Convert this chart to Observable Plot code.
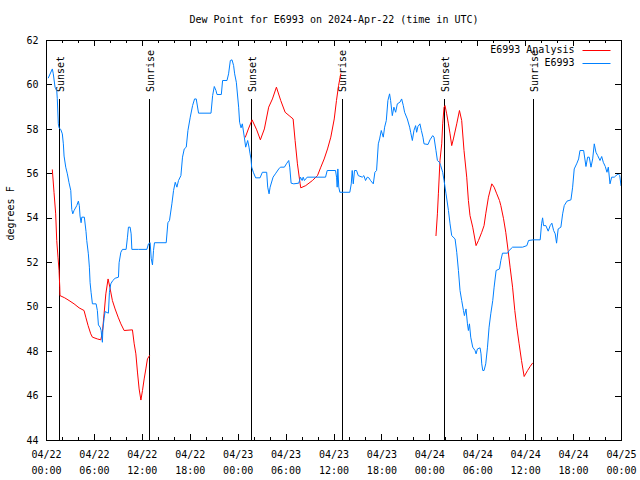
<!DOCTYPE html>
<html>
<head>
<meta charset="utf-8">
<script src="https://cdn.jsdelivr.net/npm/d3@7"></script>
<script src="https://cdn.jsdelivr.net/npm/@observablehq/plot@0.6"></script>
<style>
  html, body { margin: 0; padding: 0; background: #fff; }
  #chart svg { display: block; }
</style>
</head>
<body>
<div id="chart"></div>
<script>
// ---------- data ----------
const title = "Dew Point for E6993 on 2024-Apr-22 (time in UTC)";
const yLabel = "degrees F";
const startUTC = Date.UTC(2024, 3, 22, 0, 0);
const spanHours = 72;

const seriesNames = ["E6993 Analysis", "E6993"];
const seriesColors = ["#ff0000", "#0080ff"];

// E6993 observations: hours since 2024-04-22 00:00 UTC, dew point (°F)
const blueHours = [
  0.23,0.73,0.85,1.07,1.28,1.35,1.48,1.57,1.78,1.98,2.11,2.20,2.41,2.61,2.82,3.04,3.16,3.29,3.45,3.79,
  3.99,4.11,4.20,4.33,4.42,4.74,4.95,5.04,5.24,5.37,5.46,5.58,5.75,6.21,6.37,6.50,6.71,6.84,7.00,7.05,
  7.21,7.34,7.75,7.88,8.05,8.30,8.59,9.01,9.09,9.31,9.51,9.97,10.14,10.26,10.47,10.60,10.69,11.52,12.57,12.77,
  12.98,13.11,13.27,13.40,13.52,14.99,15.20,15.40,15.70,15.91,16.12,16.33,16.53,16.83,17.03,17.25,17.50,17.71,18.00,18.29,
  18.54,18.75,19.04,20.60,20.80,21.01,21.22,21.35,21.89,22.05,22.60,22.80,23.02,23.23,23.43,23.56,23.77,24.06,24.18,24.23,
  24.36,24.52,24.77,24.94,25.19,25.36,25.49,25.61,25.69,25.90,26.19,26.74,27.03,27.57,27.70,27.87,28.00,28.37,28.66,29.08,
  29.29,29.79,30.04,30.33,30.46,30.63,30.96,31.59,31.80,32.01,32.14,32.30,32.64,34.94,35.15,36.19,36.32,36.40,36.48,36.60,
  36.73,37.98,38.16,38.28,38.41,38.57,38.82,39.04,39.54,39.74,39.95,40.17,40.37,40.58,40.92,41.12,41.33,41.55,41.71,41.92,
  42.17,42.34,42.55,42.75,42.96,43.09,43.30,43.50,43.72,43.93,44.25,44.47,44.68,44.84,45.18,45.47,45.60,45.81,46.01,46.22,
  46.35,46.51,46.76,46.94,47.14,47.27,47.77,48.02,48.36,48.52,48.77,48.95,49.20,49.36,49.61,49.78,50.03,50.33,50.53,50.74,
  51.16,51.37,51.58,51.78,51.99,52.21,52.33,52.53,52.71,52.83,52.96,53.12,53.37,53.66,53.79,53.96,54.29,54.41,54.50,54.63,
  54.79,55.00,55.22,55.42,55.63,55.88,56.05,56.30,56.72,56.89,57.10,57.73,57.93,58.36,59.61,60.15,60.36,60.94,61.82,61.99,
  62.12,62.24,62.53,62.82,63.07,63.28,63.50,63.70,63.87,64.07,64.41,64.63,64.83,65.17,65.67,65.88,66.08,66.42,66.63,66.80,
  67.26,67.55,67.76,67.96,68.18,68.39,68.59,68.80,69.02,69.31,69.52,69.72,69.97,70.18,70.35,70.56,70.77,71.10,71.31,71.60,
  71.78,71.94
];
const blueValues = [
  60.32,60.72,60.5,59.9,59.75,59.4,58.25,58.07,58.0,57.8,57.35,56.8,56.3,56.0,55.6,55.25,54.4,54.2,54.35,54.57,
  54.77,54.57,54.1,53.8,54.05,54.05,53.4,53.0,52.4,51.8,51.1,50.67,50.15,50.15,49.85,49.2,49.1,48.95,48.42,48.95,
  49.5,49.8,49.73,50.67,51.05,51.2,51.3,51.35,52.0,52.47,52.6,52.6,53.15,53.6,53.6,53.3,52.6,52.6,52.6,52.85,
  52.9,52.2,51.9,52.55,52.9,52.9,53.8,53.9,54.65,55.25,55.62,55.4,55.7,55.92,56.75,57.12,57.2,57.95,58.55,59.07,
  59.37,59.37,58.73,58.73,59.52,59.93,59.75,59.57,59.57,60.2,60.2,60.5,61.1,61.13,60.87,60.5,60.12,59.0,58.32,58.25,
  58.07,58.25,57.65,57.2,57.5,57.2,56.9,56.67,56.3,56.07,55.82,55.82,56.07,56.07,55.4,55.1,55.4,55.85,56.0,56.22,
  56.3,56.3,56.45,56.6,56.3,55.58,55.55,55.58,55.85,55.7,55.85,55.7,55.85,55.85,56.15,56.15,55.85,55.4,56.22,55.4,
  55.17,55.17,55.55,56.15,55.55,56.15,56.15,55.92,55.85,55.92,55.7,55.85,55.82,55.7,55.55,56.07,56.15,57.35,57.57,57.95,
  57.65,58.1,58.4,59.3,59.6,59.3,58.62,59.0,58.77,59.15,59.22,59.37,59.07,58.77,58.47,58.1,57.87,57.5,57.95,58.17,
  57.87,58.13,58.25,57.95,57.65,57.35,57.32,57.53,57.72,57.65,57.05,56.6,56.52,56.37,56.07,55.7,55.1,54.35,53.75,53.22,
  53.07,52.47,51.65,50.75,50.3,49.85,49.62,49.92,49.25,48.95,49.25,48.65,48.2,48.05,47.9,48.12,48.17,47.9,47.45,47.15,
  47.15,47.45,48.2,49.1,49.7,50.3,50.9,51.65,51.72,52.1,52.43,52.43,52.55,52.7,52.7,52.77,53.0,53.03,53.03,53.75,
  54.02,53.67,53.67,53.42,53.67,53.78,53.45,53.3,52.88,53.52,53.6,54.2,54.57,54.77,54.83,55.4,56.22,56.48,56.67,57.05,
  57.05,56.33,56.75,56.75,56.3,56.67,57.35,56.97,56.82,56.6,56.78,56.52,56.33,56.07,56.3,55.55,55.85,55.85,55.92,56.0,
  55.92,55.47
];

// E6993 Analysis: three segments, separated by NaN (gaps)
const redHours = [
  0.73,0.94,1.15,1.28,1.44,1.57,1.66,1.69,2.28,2.82,3.45,4.08,4.70,4.92,5.21,5.54,5.75,6.37,6.80,7.00,
  7.21,7.43,7.71,7.93,8.25,8.59,8.97,9.31,9.72,10.76,10.98,11.19,11.39,11.60,11.82,12.02,12.23,12.44,12.64,12.90,
  NaN,
  24.90,25.28,25.74,26.32,26.78,27.28,27.82,28.29,28.79,29.33,29.88,30.38,30.88,31.13,31.42,31.76,31.84,32.46,33.30,33.93,
  34.35,34.77,35.19,35.60,36.03,36.31,36.57,36.85,
  NaN,
  48.77,48.95,49.07,49.27,49.49,49.61,49.78,49.90,50.11,50.33,50.53,50.74,50.95,51.37,51.71,51.99,52.28,52.62,52.83,53.03,
  53.37,53.79,54.09,54.50,54.79,55.00,55.34,55.76,56.05,56.38,56.72,56.89,57.23,57.51,57.80,58.05,58.36,58.64,58.89,59.18,
  59.48,59.81,60.24,60.56,60.86
];
const redValues = [
  56.18,55.17,54.2,53.0,52.25,51.65,50.9,50.52,50.42,50.3,50.15,49.97,49.85,49.55,49.17,48.8,48.65,48.57,48.53,48.87,
  49.7,50.6,51.27,50.9,50.3,49.92,49.55,49.25,48.95,48.98,48.35,47.9,47.08,46.32,45.82,46.25,46.77,47.22,47.67,47.82,
  NaN,
  57.65,58.02,58.43,57.98,57.53,58.02,59.0,59.37,59.9,59.3,58.77,58.62,58.47,57.5,56.45,55.55,55.37,55.47,55.7,55.92,
  56.3,56.67,57.12,57.65,58.47,59.3,59.97,60.5,
  NaN,
  53.22,54.2,55.1,56.6,57.35,58.25,59.0,59.07,58.7,58.25,57.8,57.27,57.57,58.25,58.85,58.4,57.05,55.85,54.8,54.12,
  53.6,52.77,53.0,53.37,53.67,54.2,54.95,55.55,55.4,55.1,54.8,54.57,53.98,53.37,52.55,51.8,50.9,49.85,49.1,48.35,
  47.6,46.88,47.15,47.33,47.48
];

// sunrise / sunset markers
const eventHours = [1.62, 12.93, 25.72, 37.02, 49.85, 60.97];
const eventLabels = ["Sunset", "Sunrise", "Sunset", "Sunrise", "Sunset", "Sunrise"];
const eventLineTop = 59.35;
const eventLabelBase = 59.68;

// axis ticks
const yTicks = [44, 46, 48, 50, 52, 54, 56, 58, 60, 62];
const majorTickHours = [0, 6, 12, 18, 24, 30, 36, 42, 48, 54, 60, 66, 72];
const minorTickHours = d3.range(0, 73, 2);

// ---------- build ----------
const toDate = h => new Date(startUTC + h * 3600e3);
const blue = blueHours.map((h, i) => ({t: toDate(h), v: blueValues[i]}));
const red = redHours.map((h, i) => ({t: isNaN(h) ? null : toDate(h), v: redValues[i]}));
const events = eventHours.map((h, i) => ({t: toDate(h), label: eventLabels[i]}));
const majorDates = majorTickHours.map(toDate);
const minorDates = minorTickHours.map(toDate);

const W = 640, H = 480, mL = 46, mR = 19, mT = 40, mB = 40;
const plotW = W - mL - mR, plotH = H - mT - mB;
const fmt = d3.utcFormat("%m/%d\n%H:%M");

const plot = Plot.plot({
  width: W, height: H,
  marginLeft: mL, marginRight: mR, marginTop: mT, marginBottom: mB,
  style: {fontFamily: "'DejaVu Sans Mono', monospace", fontSize: "10px", background: "#fff", color: "#000"},
  x: {type: "utc", domain: [toDate(0), toDate(spanHours)]},
  y: {domain: [yTicks[0], yTicks[yTicks.length - 1]]},
  marks: [
    Plot.ruleX(events, {x: "t", y1: yTicks[0], y2: eventLineTop, stroke: "#000", strokeWidth: 1, shapeRendering: "crispEdges"}),
    Plot.text(events, {x: "t", y: eventLabelBase, text: "label", rotate: -90, textAnchor: "start", lineAnchor: "middle", dx: 1, fill: "#000"}),
    Plot.line(red, {x: "t", y: "v", stroke: seriesColors[0], strokeWidth: 1}),
    Plot.line(blue, {x: "t", y: "v", stroke: seriesColors[1], strokeWidth: 1}),
    Plot.frame({stroke: "#000", strokeWidth: 1, shapeRendering: "crispEdges"}),
    // inward ticks, bottom & top
    Plot.tickX(minorDates, {x: d => d, insetTop: plotH - 3, stroke: "#000", shapeRendering: "crispEdges"}),
    Plot.tickX(minorDates, {x: d => d, insetBottom: plotH - 3, stroke: "#000", shapeRendering: "crispEdges"}),
    Plot.tickX(majorDates, {x: d => d, insetTop: plotH - 6, stroke: "#000", shapeRendering: "crispEdges"}),
    Plot.tickX(majorDates, {x: d => d, insetBottom: plotH - 6, stroke: "#000", shapeRendering: "crispEdges"}),
    // inward ticks, left & right
    Plot.tickY(yTicks, {y: d => d, insetRight: plotW - 6, stroke: "#000", shapeRendering: "crispEdges"}),
    Plot.tickY(yTicks, {y: d => d, insetLeft: plotW - 6, stroke: "#000", shapeRendering: "crispEdges"}),
    Plot.axisX({ticks: majorDates, tickSize: 0, tickPadding: 6, tickFormat: fmt, lineHeight: 1.6, label: null}),
    Plot.axisY({ticks: yTicks, tickSize: 0, tickPadding: 8, label: null}),
    Plot.text([yLabel], {frameAnchor: "left", dx: -36, rotate: -90, lineAnchor: "middle", fill: "#000"}),
    Plot.text([title], {frameAnchor: "top", dy: -21, lineAnchor: "middle", fill: "#000"})
  ]
});

// legend (inside, top right)
const svg = d3.select(plot);
const right = W - mR;
const lg = svg.append("g").attr("font-family", "'DejaVu Sans Mono', monospace").attr("font-size", 10);
seriesNames.forEach((name, i) => {
  const y = mT + 10 + i * 12.5;
  lg.append("text").attr("x", right - 46.5).attr("y", y).attr("dy", "0.32em")
    .attr("text-anchor", "end").attr("fill", "#000").text(name);
  lg.append("line").attr("x1", right - 38.5).attr("x2", right - 10.5)
    .attr("y1", Math.round(y) + 0.5).attr("y2", Math.round(y) + 0.5)
    .attr("stroke", seriesColors[i]).attr("stroke-width", 1);
});

document.getElementById("chart").appendChild(plot);
</script>
</body>
</html>
